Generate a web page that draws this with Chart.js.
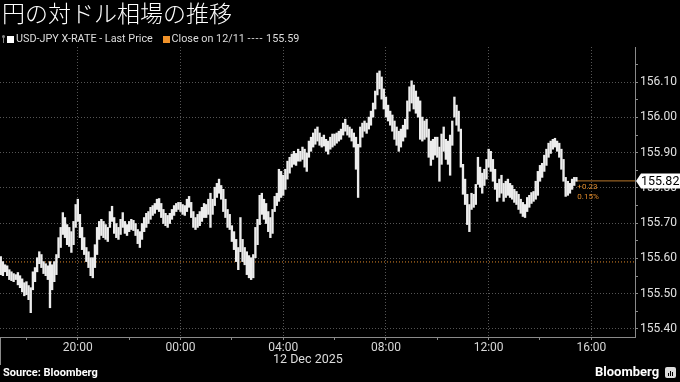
<!DOCTYPE html>
<html lang="ja">
<head>
<meta charset="utf-8">
<title>円の対ドル相場の推移</title>
<script src="https://cdn.jsdelivr.net/npm/chart.js@4/dist/chart.umd.min.js"></script>
<style>
    html, body { margin: 0; padding: 0; background: #000; }
    #wrap { position: relative; width: 680px; height: 382px; overflow: hidden; background: #000; font-family: Roboto, sans-serif; color: #ddd; }
    #chart { position: absolute; left: 0; top: 0; }
    .title { position: absolute; left: 2px; top: 1px; font: 300 23px/1 "Noto Sans CJK JP", sans-serif; color: #fff; white-space: nowrap; }
    .legend { position: absolute; left: 3px; top: 33px; font-size: 10.8px; line-height: 12px; white-space: nowrap; color: #ddd; }
    .legend span { display: inline-block; vertical-align: middle; }
    .pin { width: 1px; height: 7px; background: #888; margin-right: 3px; position: relative; }
    .pin::before { content: ''; position: absolute; left: -1px; top: -1px; width: 3px; height: 3px; border-radius: 50%; background: #888; }
    .sq { width: 7px; height: 7px; margin-right: 2px; }
    .dash { letter-spacing: 1px; }
    .date { position: absolute; left: 273px; top: 351px; font-size: 12.5px; color: #ddd; white-space: nowrap; }
    .source { position: absolute; left: 3px; top: 366px; font-size: 11px; font-weight: bold; color: #fff; white-space: nowrap; }
    .brand { position: absolute; left: 595px; top: 364px; font-size: 13px; font-weight: bold; color: #fff; white-space: nowrap; }
    .logo { position: absolute; left: 665px; top: 367px; width: 11px; height: 11px; border-radius: 2px; background: #ddd; }
    .logo i { position: absolute; bottom: 2px; width: 1px; background: #000; }
</style>
</head>
<body>
<div id="wrap">
    <canvas id="chart" width="680" height="382"></canvas>
    <div class="title">円の対ドル相場の推移</div>
    <div class="legend">
        <span class="pin"></span><span class="sq" style="background:#fff"></span><span>USD-JPY X-RATE - Last Price</span>
        <span class="sq" style="background:#f0922a; margin-left:7px"></span><span>Close on 12/11 <span class="dash">----</span> 155.59</span>
    </div>
    <div class="date">12 Dec 2025</div>
    <div class="source">Source: Bloomberg</div>
    <div class="brand">Bloomberg</div>
    <div class="logo"><i style="left:3px;height:3px"></i><i style="left:5px;height:5px"></i><i style="left:7px;height:4px"></i></div>
</div>
<script>
// 5-minute bars of USD-JPY, first bar at 17:00 on 11 Dec (Tokyo time)
const barMinutes = 5;

// low / high of every bar, one row per hour
const lows = [
    155.554, 155.551, 155.562, 155.551, 155.540, 155.537, 155.534, 155.540, 155.525, 155.517, 155.505, 155.494,
    155.497, 155.483, 155.446, 155.511, 155.534, 155.562, 155.585, 155.574, 155.557, 155.551, 155.540, 155.460,
    155.511, 155.534, 155.554, 155.602, 155.631, 155.668, 155.659, 155.639, 155.634, 155.617, 155.639, 155.688,
    155.705, 155.659, 155.625, 155.611, 155.591, 155.574, 155.551, 155.545, 155.574, 155.611, 155.654, 155.665,
    155.659, 155.654, 155.648, 155.688, 155.705, 155.671, 155.659, 155.654, 155.668, 155.688, 155.671, 155.665,
    155.676, 155.682, 155.679, 155.665, 155.642, 155.631, 155.654, 155.676, 155.688, 155.699, 155.711, 155.722,
    155.728, 155.739, 155.733, 155.716, 155.699, 155.693, 155.688, 155.699, 155.711, 155.722, 155.733, 155.739,
    155.733, 155.725, 155.722, 155.733, 155.745, 155.716, 155.688, 155.682, 155.688, 155.693, 155.705, 155.716,
    155.716, 155.725, 155.688, 155.725, 155.750, 155.773, 155.785, 155.768, 155.733, 155.716, 155.688, 155.682,
    155.648, 155.625, 155.591, 155.568, 155.619, 155.591, 155.582, 155.554, 155.545, 155.540, 155.545, 155.602,
    155.639, 155.696, 155.725, 155.711, 155.699, 155.676, 155.659, 155.671, 155.733, 155.750, 155.762, 155.773,
    155.779, 155.796, 155.825, 155.842, 155.859, 155.867, 155.864, 155.876, 155.876, 155.881, 155.859, 155.847,
    155.887, 155.904, 155.916, 155.924, 155.933, 155.921, 155.916, 155.919, 155.904, 155.896, 155.910, 155.916,
    155.921, 155.927, 155.933, 155.938, 155.950, 155.961, 155.950, 155.944, 155.933, 155.916, 155.853, 155.773,
    155.916, 155.944, 155.961, 155.955, 155.967, 155.978, 156.001, 156.024, 156.064, 156.081, 156.052, 156.024,
    156.001, 155.990, 155.978, 155.961, 155.938, 155.921, 155.904, 155.916, 155.933, 155.944, 155.967, 156.018,
    156.041, 156.024, 156.012, 156.001, 155.938, 155.933, 155.938, 155.944, 155.887, 155.864, 155.881, 155.893,
    155.887, 155.819, 155.867, 155.904, 155.881, 155.867, 155.836, 155.921, 156.001, 155.978, 155.961, 155.859,
    155.782, 155.753, 155.696, 155.676, 155.739, 155.745, 155.753, 155.810, 155.802, 155.785, 155.807, 155.825,
    155.859, 155.847, 155.819, 155.796, 155.762, 155.773, 155.785, 155.762, 155.773, 155.779, 155.773, 155.768,
    155.759, 155.753, 155.739, 155.728, 155.719, 155.716, 155.733, 155.745, 155.756, 155.762, 155.768, 155.779,
    155.819, 155.830, 155.847, 155.864, 155.887, 155.898, 155.910, 155.916, 155.904, 155.887, 155.853, 155.819,
    155.776, 155.779, 155.785, 155.796, 155.807, 155.819
];
const highs = [
    155.605, 155.591, 155.582, 155.579, 155.568, 155.562, 155.557, 155.554, 155.560, 155.551, 155.542, 155.531,
    155.534, 155.523, 155.517, 155.562, 155.574, 155.602, 155.619, 155.611, 155.591, 155.585, 155.579, 155.591,
    155.582, 155.591, 155.611, 155.659, 155.688, 155.730, 155.716, 155.696, 155.688, 155.676, 155.705, 155.753,
    155.768, 155.725, 155.688, 155.659, 155.631, 155.619, 155.602, 155.602, 155.639, 155.688, 155.705, 155.711,
    155.705, 155.696, 155.688, 155.733, 155.748, 155.716, 155.699, 155.688, 155.711, 155.730, 155.705, 155.696,
    155.705, 155.711, 155.708, 155.699, 155.682, 155.676, 155.699, 155.716, 155.728, 155.733, 155.745, 155.750,
    155.756, 155.768, 155.770, 155.756, 155.739, 155.728, 155.722, 155.728, 155.739, 155.750, 155.756, 155.759,
    155.759, 155.753, 155.750, 155.768, 155.776, 155.759, 155.733, 155.716, 155.725, 155.733, 155.745, 155.756,
    155.753, 155.768, 155.785, 155.768, 155.802, 155.813, 155.825, 155.807, 155.796, 155.768, 155.739, 155.725,
    155.693, 155.676, 155.654, 155.631, 155.716, 155.654, 155.631, 155.619, 155.608, 155.602, 155.611, 155.688,
    155.711, 155.779, 155.785, 155.768, 155.756, 155.733, 155.716, 155.739, 155.776, 155.785, 155.853, 155.847,
    155.836, 155.853, 155.876, 155.887, 155.896, 155.904, 155.898, 155.910, 155.904, 155.916, 155.910, 155.899,
    155.933, 155.944, 155.956, 155.967, 155.973, 155.956, 155.944, 155.950, 155.938, 155.933, 155.944, 155.953,
    155.953, 155.956, 155.961, 155.967, 155.984, 155.995, 155.978, 155.973, 155.967, 155.956, 155.944, 155.924,
    155.973, 155.984, 155.990, 155.984, 156.001, 156.018, 156.041, 156.075, 156.126, 156.132, 156.115, 156.081,
    156.058, 156.035, 156.018, 156.007, 155.990, 155.973, 155.961, 155.967, 155.978, 155.995, 156.047, 156.087,
    156.104, 156.092, 156.075, 156.058, 156.047, 156.001, 155.990, 155.995, 155.967, 155.933, 155.938, 155.944,
    155.944, 155.916, 155.953, 155.973, 155.938, 155.933, 155.950, 155.990, 156.058, 156.035, 156.018, 155.967,
    155.867, 155.825, 155.782, 155.753, 155.785, 155.782, 155.810, 155.887, 155.859, 155.842, 155.853, 155.881,
    155.910, 155.904, 155.881, 155.853, 155.813, 155.825, 155.836, 155.813, 155.819, 155.825, 155.813, 155.807,
    155.796, 155.790, 155.782, 155.768, 155.759, 155.753, 155.773, 155.779, 155.787, 155.790, 155.819, 155.847,
    155.864, 155.870, 155.893, 155.910, 155.927, 155.933, 155.938, 155.941, 155.933, 155.927, 155.910, 155.881,
    155.830, 155.819, 155.813, 155.825, 155.830, 155.830
];

const prevClose = 155.59;
const lastPrice = 155.82;
const changeText = '+0.23';
const changePctText = '0.15%';

// x axis in hours after 17:00, 11 Dec
const xTickHours = [1, 3, 5, 7, 9, 11, 13, 15, 17, 19, 21, 23];
const xTickLabels = ['', '20:00', '', '00:00', '', '04:00', '', '08:00', '', '12:00', '', '16:00'];
const yTicks = [155.40, 155.45, 155.50, 155.55, 155.60, 155.65, 155.70, 155.75, 155.80, 155.85, 155.90, 155.95, 156.00, 156.05, 156.10, 156.15];
const yTickLabels = ['155.40', '', '155.50', '', '155.60', '', '155.70', '', '155.80', '', '155.90', '', '156.00', '', '156.10', ''];

const xMin = -0.03;
const xMax = 24.7;

const bars = lows.map((lo, i) => ({ x: i * barMinutes / 60, y: [lo, highs[i]] }));
const lastHour = (lows.length - 1) * barMinutes / 60;

const gridDim = '#555';
const axisGray = '#8a8a8a';
const orange = '#e08a2a';

const priceTag = {
    id: 'priceTag',
    afterDraw(chart) {
        const { ctx, scales: { x, y } } = chart;
        const py = Math.round(y.getPixelForValue(lastPrice));
        const lx = x.getPixelForValue(lastHour);

        ctx.save();
        // stub under the left edge of the time axis
        ctx.strokeStyle = axisGray;
        ctx.lineWidth = 1;
        ctx.beginPath();
        ctx.moveTo(0.5, x.top);
        ctx.lineTo(0.5, x.top + 28);
        ctx.stroke();

        // last price box on the axis
        const bx = x.right + 1;
        ctx.fillStyle = '#fff';
        ctx.beginPath();
        ctx.moveTo(bx, py);
        ctx.lineTo(bx + 5, py - 7.5);
        ctx.lineTo(680, py - 7.5);
        ctx.lineTo(680, py + 7.5);
        ctx.lineTo(bx + 5, py + 7.5);
        ctx.closePath();
        ctx.fill();
        ctx.fillStyle = '#000';
        ctx.font = '12.5px Roboto';
        ctx.textBaseline = 'middle';
        ctx.fillText(lastPrice.toFixed(2), bx + 5, py + 0.5);

        // change vs previous close
        ctx.fillStyle = orange;
        ctx.font = '8px Roboto';
        ctx.fillText(changeText, lx + 1, py + 6);
        ctx.fillText(changePctText, lx + 1, py + 16);
        ctx.restore();
    }
};

const ctx = document.getElementById('chart');
new Chart(ctx, {
    type: 'bar',
    data: {
        datasets: [
            {
                label: 'USD-JPY X-RATE - Last Price',
                data: bars,
                backgroundColor: '#ececec',
                borderWidth: 0,
                barThickness: 1.7,
                order: 0
            },
            {
                type: 'line',
                label: 'Close on 12/11',
                data: [{ x: xMin, y: prevClose }, { x: xMax, y: prevClose }],
                borderColor: orange,
                borderWidth: 1,
                borderDash: [1, 2],
                pointRadius: 0,
                order: 1
            },
            {
                type: 'line',
                label: 'last',
                data: [{ x: lastHour, y: lastPrice }, { x: xMax, y: lastPrice }],
                borderColor: '#b8772a',
                borderWidth: 1,
                pointRadius: 0,
                order: 1
            }
        ]
    },
    options: {
        responsive: false,
        animation: false,
        events: [],
        layout: { padding: { top: 47, left: 0, right: 0, bottom: 0 } },
        plugins: {
            legend: { display: false },
            tooltip: { enabled: false }
        },
        scales: {
            x: {
                type: 'linear',
                min: xMin,
                max: xMax,
                offset: false,
                afterBuildTicks: (scale) => { scale.ticks = xTickHours.map(v => ({ value: v })); },
                afterFit: (scale) => { scale.height = 45; },
                ticks: {
                    autoSkip: false,
                    maxRotation: 0,
                    padding: 1,
                    color: '#d8d8d8',
                    font: { family: 'Roboto', size: 12 },
                    callback: (value, index) => xTickLabels[index]
                },
                grid: {
                    offset: false,
                    color: (c) => (xTickLabels[c.index] ? gridDim : 'rgba(0,0,0,0)'),
                    tickColor: axisGray,
                    tickLength: 3,
                    tickBorderDash: []
                },
                border: { color: axisGray, width: 1, dash: [1, 2] }
            },
            y: {
                position: 'right',
                min: 155.377,
                max: 156.2,
                afterBuildTicks: (scale) => { scale.ticks = yTicks.map(v => ({ value: v })); },
                afterFit: (scale) => { scale.width = 45; },
                ticks: {
                    padding: 2,
                    color: '#e0e0e0',
                    font: { family: 'Roboto', size: 12 },
                    callback: (value, index) => yTickLabels[index]
                },
                grid: {
                    color: (c) => (yTickLabels[c.index] ? gridDim : 'rgba(0,0,0,0)'),
                    tickColor: axisGray,
                    tickLength: 3,
                    tickBorderDash: []
                },
                border: { color: axisGray, width: 1, dash: [1, 2] }
            }
        }
    },
    plugins: [priceTag]
});
</script>
</body>
</html>
